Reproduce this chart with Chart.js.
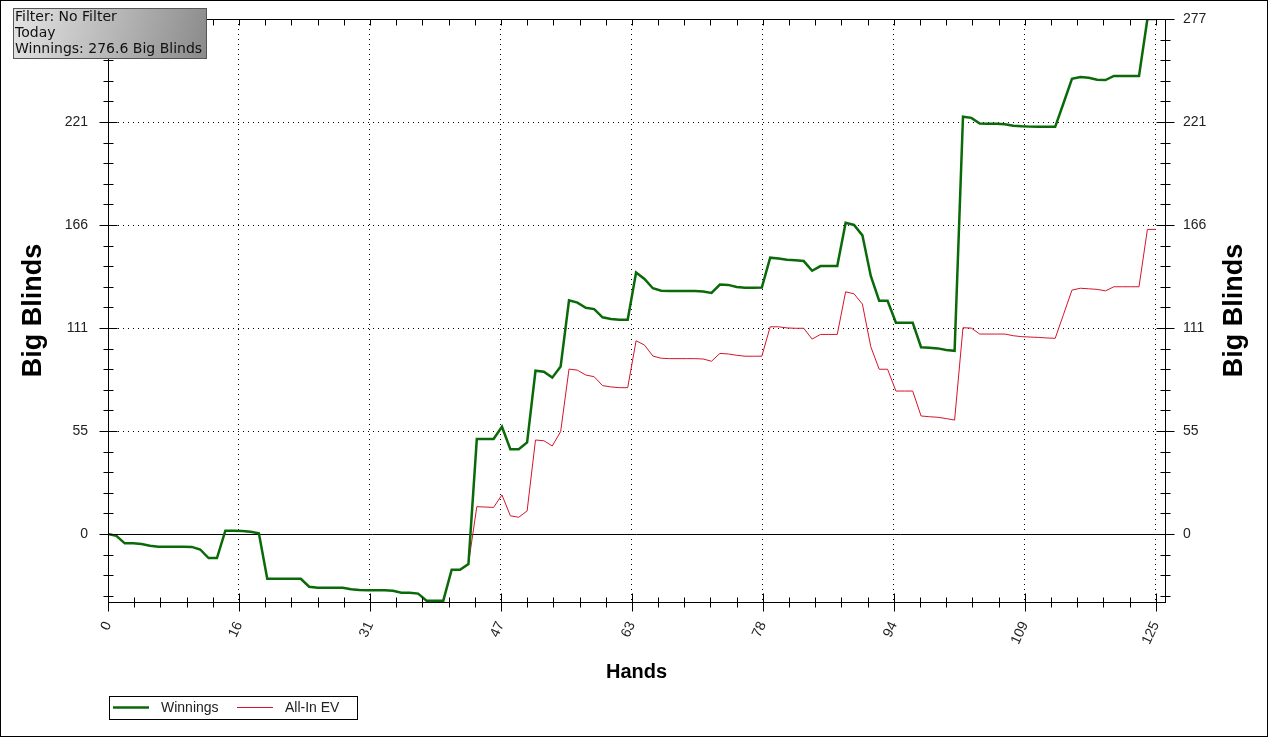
<!DOCTYPE html>
<html>
<head>
<meta charset="utf-8">
<script src="https://cdn.jsdelivr.net/npm/chart.js@4.4.1/dist/chart.umd.min.js"></script>
<style>
  html, body { margin: 0; padding: 0; background: #fff; }
  #wrap { width: 1272px; height: 738px; }
</style>
</head>
<body>
<div id="wrap"><canvas id="chart" width="1272" height="738"></canvas></div>
<script>
// hands played (x) and cumulative big blinds
const hands = Array.from({ length: 126 }, (_, i) => i);
const winnings = [
  0, -1, -5, -5, -5.3, -6.3, -6.8, -6.8, -6.8, -6.8,
  -6.9, -8.3, -12.9, -12.9, 1.8, 1.8, 1.6, 1.2, 0.4, -24,
  -24, -24, -24, -24, -28.3, -28.8, -28.8, -28.8, -28.8, -29.7,
  -30, -30.2, -30.2, -30.2, -30.5, -31.5, -31.5, -32, -35.8, -35.8,
  -35.8, -19.2, -19.2, -16.1, 51, 51, 51, 57.6, 45.6, 45.6,
  49.2, 87.7, 87.2, 84, 90, 125.5, 124.3, 121.5, 120.8, 116.4,
  115.5, 115.1, 115.1, 140.5, 137, 132, 130.7, 130.5, 130.5, 130.5,
  130.5, 130.3, 129.5, 134, 133.8, 132.7, 132.3, 132.3, 132.4, 148.4,
  148, 147.3, 147, 146.6, 141.4, 143.9, 143.9, 143.9, 167.2, 166,
  160.4, 138.6, 125.3, 125.3, 113.5, 113.5, 113.5, 100.3, 100, 99.7,
  98.8, 98.4, 224.1, 223.5, 220.5, 220.4, 220.3, 220.1, 219.3, 219,
  218.8, 218.7, 218.7, 218.7, 231.5, 244.5, 245.5, 245, 244, 243.8,
  246, 246, 246, 246, 276.6, 276.6
];
const allInEV = [
  0, -1, -5, -5, -5.3, -6.3, -6.8, -6.8, -6.8, -6.8,
  -6.9, -8.3, -12.9, -12.9, 1.8, 1.8, 1.6, 1.2, 0.4, -24,
  -24, -24, -24, -24, -28.3, -28.8, -28.8, -28.8, -28.8, -29.7,
  -30, -30.2, -30.2, -30.2, -30.5, -31.5, -31.5, -32, -35.8, -35.8,
  -35.8, -19.2, -19.2, -16.1, 14.7, 14.5, 14.3, 21, 9.8, 9,
  12.4, 50.5, 50.1, 47.3, 55, 88.6, 88, 85.4, 84.5, 79.7,
  79, 78.6, 78.6, 103.8, 101.5, 95.6, 94.4, 94.2, 94.2, 94.2,
  94.2, 94, 92.8, 97, 96.7, 96, 95.5, 95.5, 95.5, 111.3,
  111.3, 110.7, 110.5, 110.5, 104.7, 107.2, 107.2, 107.2, 130.1, 129,
  123.5, 100.6, 88.5, 88.5, 76.8, 76.8, 76.8, 63.4, 63, 62.7,
  62, 61.2, 110.8, 110.6, 107.4, 107.4, 107.4, 107.4, 106.5, 106,
  105.8, 105.6, 105.3, 105.1, 118, 131, 132, 131.7, 131.4, 130.6,
  132.8, 132.8, 132.8, 132.8, 163.6, 163.6
];

const xTickValues = [0, 15.625, 31.25, 46.875, 62.5, 78.125, 93.75, 109.375, 125];
const xTickLabels = ['0', '16', '31', '47', '63', '78', '94', '109', '125'];
const yTickValues = [0, 55.32, 110.64, 165.96, 221.28, 276.6];
const yTickLabels = ['0', '55', '111', '166', '221', '277'];

const infoLines = ['Filter: No Filter', 'Today', 'Winnings: 276.6 Big Blinds'];

const tickFont = { family: 'Liberation Sans, Arial, sans-serif', size: 14 };

function setTicks(values) {
  return scale => { scale.ticks = values.map(v => ({ value: v })); };
}

function fixWidth(w) {
  return s => {
    s.width = w;
    s.paddingTop = 0;
    s.paddingBottom = 0;
  };
}

// axis frame, tick marks, zero line, legend, info box
const decorPlugin = {
  id: 'decor',
  beforeDatasetsDraw(chart) {
    const { ctx, chartArea: a, scales: { y } } = chart;
    const y0 = Math.round(y.getPixelForValue(0)) + 0.5;
    ctx.save();
    ctx.strokeStyle = '#000';
    ctx.lineWidth = 1;
    ctx.beginPath();
    ctx.moveTo(a.left, y0);
    ctx.lineTo(a.right, y0);
    ctx.stroke();
    ctx.restore();
  },
  afterDatasetsDraw(chart) {
    const { ctx, chartArea: a, scales: { x, y } } = chart;
    const L = Math.round(a.left) + 0.5, R = Math.round(a.right) + 0.5;
    const T = Math.round(a.top) + 0.5, B = Math.round(a.bottom) + 0.5;
    ctx.save();
    ctx.strokeStyle = '#000';
    ctx.lineWidth = 1;
    ctx.strokeRect(L, T, R - L, B - T);
    ctx.beginPath();
    // x ticks, bottom and top
    for (let i = 0; i * 3.125 <= x.max; i++) {
      const px = Math.round(x.getPixelForValue(i * 3.125)) + 0.5;
      const len = i % 5 === 0 ? 9 : 5;
      ctx.moveTo(px, B - len); ctx.lineTo(px, B + len);
      ctx.moveTo(px, T); ctx.lineTo(px, T + 6);
    }
    // y ticks, left and right
    const step = 55.32 / 5;
    for (let i = -3; i * step <= y.max + 0.01; i++) {
      const py = Math.round(y.getPixelForValue(i * step)) + 0.5;
      const len = i % 5 === 0 ? 9 : 5;
      ctx.moveTo(L - len, py); ctx.lineTo(L + len, py);
      ctx.moveTo(R - len, py); ctx.lineTo(R + len, py);
    }
    ctx.stroke();
    ctx.restore();
  },
  afterDraw(chart) {
    const { ctx, chartArea: a } = chart;
    ctx.save();
    // right axis title
    ctx.fillStyle = '#000';
    ctx.font = 'bold 27px Liberation Sans, Arial, sans-serif';
    ctx.textAlign = 'center';
    ctx.textBaseline = 'middle';
    ctx.translate(1235, (a.top + a.bottom) / 2);
    ctx.rotate(-Math.PI / 2);
    ctx.fillText('Big Blinds', 0, 0);
    ctx.setTransform(1, 0, 0, 1, 0, 0);

    // legend
    ctx.strokeStyle = '#000';
    ctx.lineWidth = 1;
    ctx.strokeRect(109.5, 696.5, 248, 23);
    ctx.font = '14px Liberation Sans, Arial, sans-serif';
    ctx.textAlign = 'left';
    ctx.fillStyle = '#222';
    const legendX = [113, 237];
    chart.data.datasets.forEach((ds, i) => {
      ctx.strokeStyle = ds.borderColor;
      ctx.lineWidth = ds.borderWidth;
      ctx.beginPath();
      ctx.moveTo(legendX[i], 707.5);
      ctx.lineTo(legendX[i] + 36, 707.5);
      ctx.stroke();
      ctx.fillText(ds.label, legendX[i] + 48, 708);
    });

    // info box
    const g = ctx.createLinearGradient(13, 8, 206, 58);
    g.addColorStop(0, '#e4e4e4');
    g.addColorStop(0.55, '#b4b4b4');
    g.addColorStop(1, '#8a8a8a');
    ctx.fillStyle = g;
    ctx.fillRect(13, 8, 193, 50);
    ctx.strokeStyle = '#555';
    ctx.lineWidth = 1;
    ctx.strokeRect(13.5, 8.5, 193, 50);
    ctx.fillStyle = '#111';
    ctx.font = '14px DejaVu Sans, sans-serif';
    infoLines.forEach((t, i) => ctx.fillText(t, 15, 17.5 + i * 16));

    // outer frame
    ctx.strokeStyle = '#000';
    ctx.strokeRect(0.5, 0.5, 1267, 736);
    ctx.restore();
  }
};

new Chart(document.getElementById('chart'), {
  type: 'line',
  data: {
    datasets: [
      {
        label: 'Winnings',
        data: hands.map((h, i) => ({ x: h, y: winnings[i] })),
        borderColor: '#0a6a0a',
        borderWidth: 2.5,
        pointRadius: 0,
        tension: 0,
        fill: false
      },
      {
        label: 'All-In EV',
        data: hands.map((h, i) => ({ x: h, y: allInEV[i] })),
        borderColor: '#d4142c',
        borderWidth: 1,
        pointRadius: 0,
        tension: 0,
        fill: false
      }
    ]
  },
  options: {
    responsive: false,
    animation: false,
    layout: { padding: { top: 19, left: 0, right: 0, bottom: 0 } },
    plugins: { legend: { display: false }, tooltip: { enabled: false } },
    scales: {
      x: {
        type: 'linear',
        min: 0,
        max: 126.1,
        afterBuildTicks: setTicks(xTickValues),
        afterFit: s => { s.height = 136; },
        grid: {
          drawTicks: false,
          color: c => (c.tick && c.tick.value > 0 ? '#000' : 'transparent')
        },
        border: { display: false, dash: [1, 4] },
        ticks: {
          font: tickFont,
          color: '#222',
          minRotation: 65,
          maxRotation: 65,
          padding: 17,
          callback: (v, i) => xTickLabels[i]
        },
        title: {
          display: true,
          text: 'Hands',
          color: '#000',
          font: { family: 'Liberation Sans, Arial, sans-serif', size: 20, weight: 'bold' },
          padding: { top: 0, bottom: 54 }
        }
      },
      y: {
        position: 'left',
        min: -36.5,
        max: 276.6,
        afterBuildTicks: setTicks(yTickValues),
        afterFit: fixWidth(108),
        grid: {
          drawTicks: false,
          color: c => (c.tick && c.tick.value > 0 ? '#000' : 'transparent')
        },
        border: { display: false, dash: [1, 4] },
        ticks: {
          font: tickFont,
          color: '#222',
          padding: 20,
          callback: (v, i) => yTickLabels[i]
        },
        title: {
          display: true,
          text: 'Big Blinds',
          color: '#000',
          font: { family: 'Liberation Sans, Arial, sans-serif', size: 27, weight: 'bold' },
          padding: { top: 17, bottom: 0 }
        }
      },
      y2: {
        position: 'right',
        min: -36.5,
        max: 276.6,
        afterBuildTicks: setTicks(yTickValues),
        afterFit: fixWidth(107),
        grid: { display: false, drawTicks: false },
        border: { display: false },
        ticks: {
          font: tickFont,
          color: '#222',
          padding: 18,
          callback: (v, i) => yTickLabels[i]
        }
      }
    }
  },
  plugins: [decorPlugin]
});
</script>
</body>
</html>
